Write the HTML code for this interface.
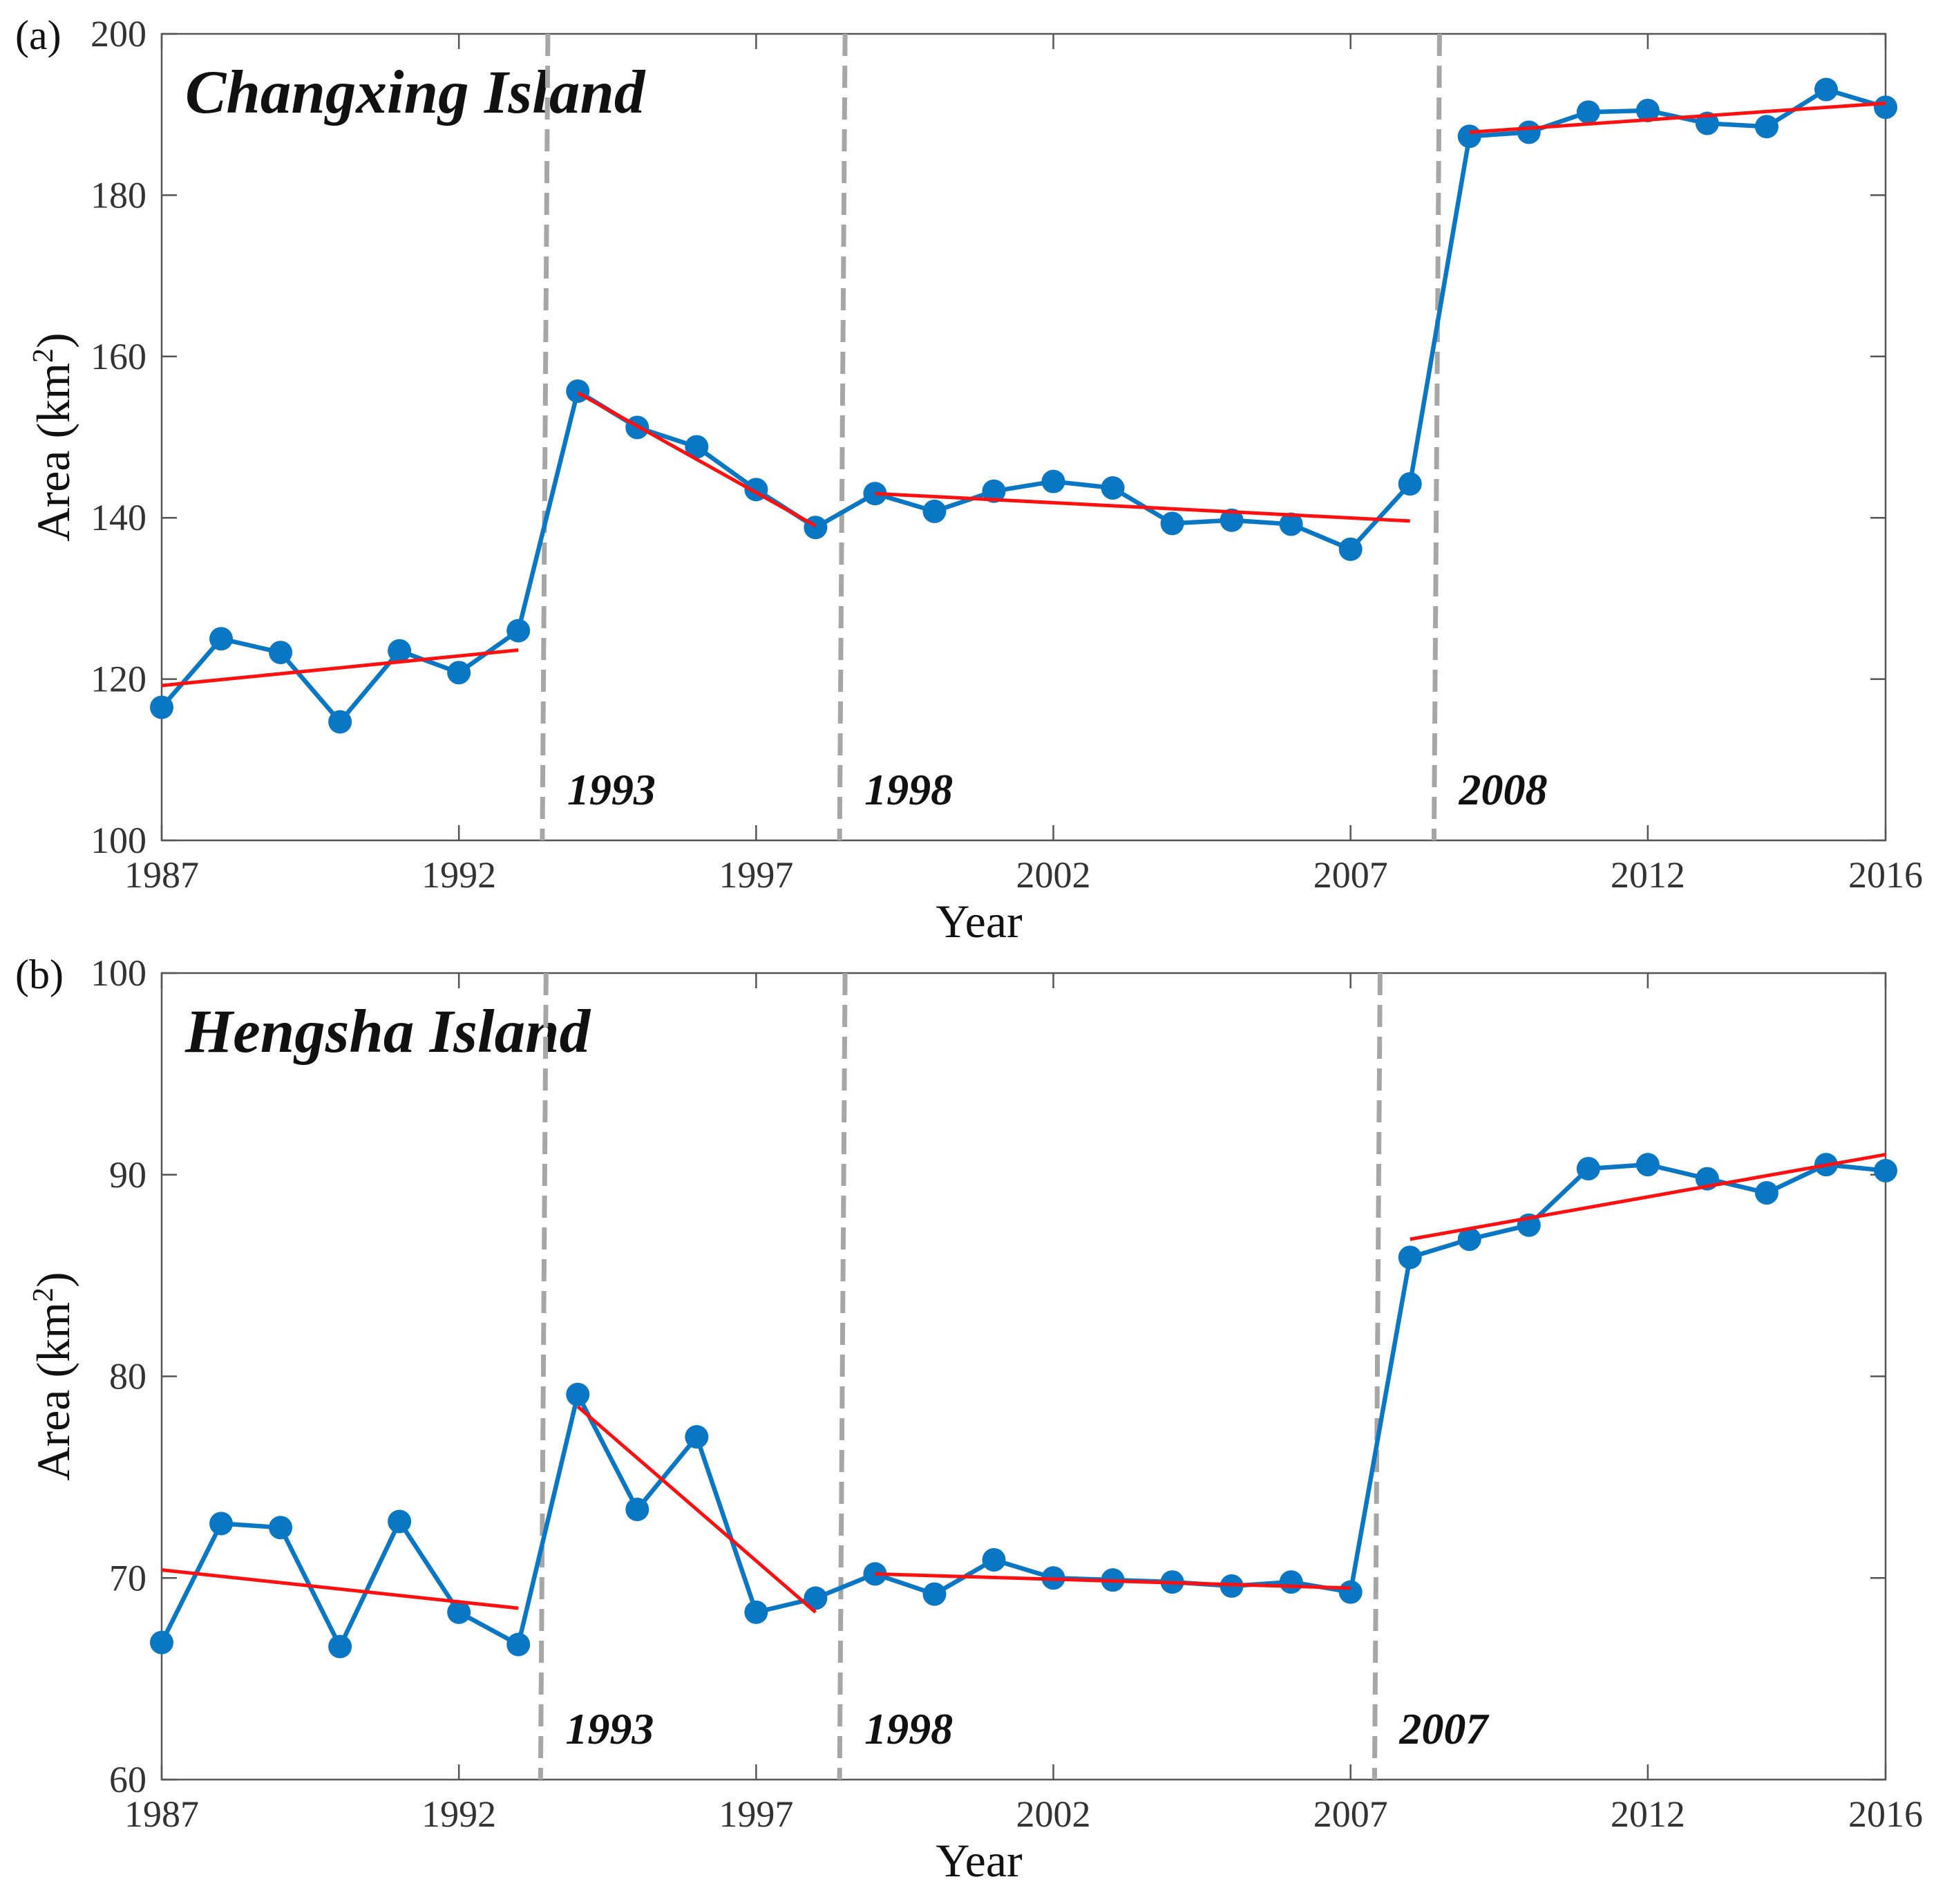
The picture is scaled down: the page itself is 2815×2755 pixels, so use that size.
<!DOCTYPE html>
<html><head><meta charset="utf-8"><style>
html,body{margin:0;padding:0;background:#fff;}
svg{display:block;font-family:"Liberation Serif",serif;}
</style></head><body>
<svg id="chart" width="2815" height="2755" viewBox="0 0 2815 2755" xmlns="http://www.w3.org/2000/svg"></svg>
<script>
const years = [1987,1988,1989,1990,1991,1992,1993,1994,1995,1996,1997,1998,1999,2000,2001,2002,2003,2004,2005,2006,2007,2008,2009,2010,2011,2012,2013,2014,2015,2016];
const changxingArea = [116.5,125,123.3,114.7,123.5,120.8,126,155.7,151.2,148.8,143.5,138.8,143,140.8,143.3,144.5,143.7,139.3,139.7,139.2,136.1,144.2,187.3,187.8,190.3,190.5,188.9,188.5,193.1,190.9];
const hengshaArea = [66.8,72.7,72.5,66.6,72.8,68.3,66.7,79.1,73.4,77,68.3,69,70.2,69.2,70.9,70,69.9,69.8,69.6,69.8,69.3,85.9,86.8,87.5,90.3,90.5,89.8,89.1,90.5,90.2];
const changxingTrends = [[1987,119.2,1993,123.6],[1994,155.5,1998,139],[1999,143,2008,139.6],[2009,187.8,2016,191.4]];
const hengshaTrends = [[1987,70.4,1993,68.5],[1994,78.5,1998,68.3],[1999,70.2,2007,69.5],[2008,86.8,2016,91]];
const changxingBreaks = [1993.45,1998.45,2008.45];
const changxingBreakLabels = ["1993","1998","2008"];
const hengshaBreaks = [1993.42,1998.45,2007.45];
const hengshaBreakLabels = ["1993","1998","2007"];
const xTicks = [1987,1992,1997,2002,2007,2012,2016];
const changxingYTicks = [100,120,140,160,180,200];
const hengshaYTicks = [60,70,80,90,100];

const NS="http://www.w3.org/2000/svg";
const svg=document.getElementById('chart');
function mk(tag,attrs,parent){const e=document.createElementNS(NS,tag);for(const k in attrs)e.setAttribute(k,attrs[k]);(parent||svg).appendChild(e);return e;}

function panel(opt){
  const L=234,R=2729,T=opt.top,B=opt.top+1167;
  const x=v=>L+(v-1987)/(2016-1987)*(R-L);
  const y=v=>B-(v-opt.ymin)/(opt.ymax-opt.ymin)*(B-T);
  const g=mk('g',{});
  
  
  const box=mk('rect',{x:L,y:T,width:R-L,height:B-T,fill:'none',stroke:'#555','stroke-width':2.5},g);
  
  
  xTicks.forEach(t=>{
    mk('line',{x1:x(t),x2:x(t),y1:B,y2:B-22,stroke:'#555','stroke-width':2.5},g);
    mk('line',{x1:x(t),x2:x(t),y1:T,y2:T+22,stroke:'#555','stroke-width':2.5},g);
    const tx=mk('text',{x:x(t),y:B+68,'text-anchor':'middle','font-size':54,fill:'#333'},g);
    tx.textContent=t;
    
    
  });
  opt.yticks.forEach(t=>{
    mk('line',{x1:L,x2:L+22,y1:y(t),y2:y(t),stroke:'#555','stroke-width':2.5},g);
    mk('line',{x1:R,x2:R-22,y1:y(t),y2:y(t),stroke:'#555','stroke-width':2.5},g);
    const tx=mk('text',{x:L-22,y:y(t)+18,'text-anchor':'end','font-size':54,fill:'#333'},g);
    tx.textContent=t;
    
    
  });
  const xt=mk('text',{x:1417,y:B+140,'text-anchor':'middle','font-size':68,fill:'#111'},g);
  xt.textContent='Year';
  
  
  const yt=mk('text',{x:0,y:0,'text-anchor':'middle','font-size':68,fill:'#111',transform:`translate(100,${(T+B)/2}) rotate(-90)`},g);
  yt.innerHTML='Area (km<tspan dy="-24" font-size="42">2</tspan><tspan dy="24">)</tspan>';
  
  
  const pl=mk('text',{x:22,y:T+22,'font-size':60,fill:'#111'},g);
  pl.textContent=opt.letter;
  
  
  const ti=mk('text',{x:268,y:T+114,'font-size':89,'font-weight':'bold','font-style':'italic',fill:'#111'},g);
  ti.textContent=opt.title;
  
  
  opt.breaks.forEach((b,i)=>{
    const ln=mk('line',{x1:x(b)+4,x2:x(b)-4,y1:T,y2:B,stroke:'#a6a6a6','stroke-width':7,'stroke-dasharray':'32 14'},g);
    
    
    const lb=mk('text',{x:x(b)+32,y:B-52,'font-size':64,'font-weight':'bold','font-style':'italic',fill:'#111'},g);
    lb.textContent=opt.breakLabels[i];
    
    
  });
  const pts=years.map((yr,i)=>x(yr)+','+y(opt.data[i])).join(' ');
  const pline=mk('polyline',{points:pts,fill:'none',stroke:'#0a77c4','stroke-width':6.5,'stroke-linejoin':'round'},g);
  
  
  years.forEach((yr,i)=>{
    const c=mk('circle',{cx:x(yr),cy:y(opt.data[i]),r:17,fill:'#0a77c4'},g);
    
    
  });
  opt.trends.forEach(t=>{
    const ln=mk('line',{x1:x(t[0]),y1:y(t[1]),x2:x(t[2]),y2:y(t[3]),stroke:'#ff1010','stroke-width':5},g);
    
    
  });
}
panel({name:'changxing-panel',top:49,ymin:100,ymax:200,yticks:changxingYTicks,data:changxingArea,trends:changxingTrends,breaks:changxingBreaks,breakLabels:changxingBreakLabels,letter:'(a)',title:'Changxing Island'});
panel({name:'hengsha-panel',top:1408,ymin:60,ymax:100,yticks:hengshaYTicks,data:hengshaArea,trends:hengshaTrends,breaks:hengshaBreaks,breakLabels:hengshaBreakLabels,letter:'(b)',title:'Hengsha Island'});
</script>
</body></html>
